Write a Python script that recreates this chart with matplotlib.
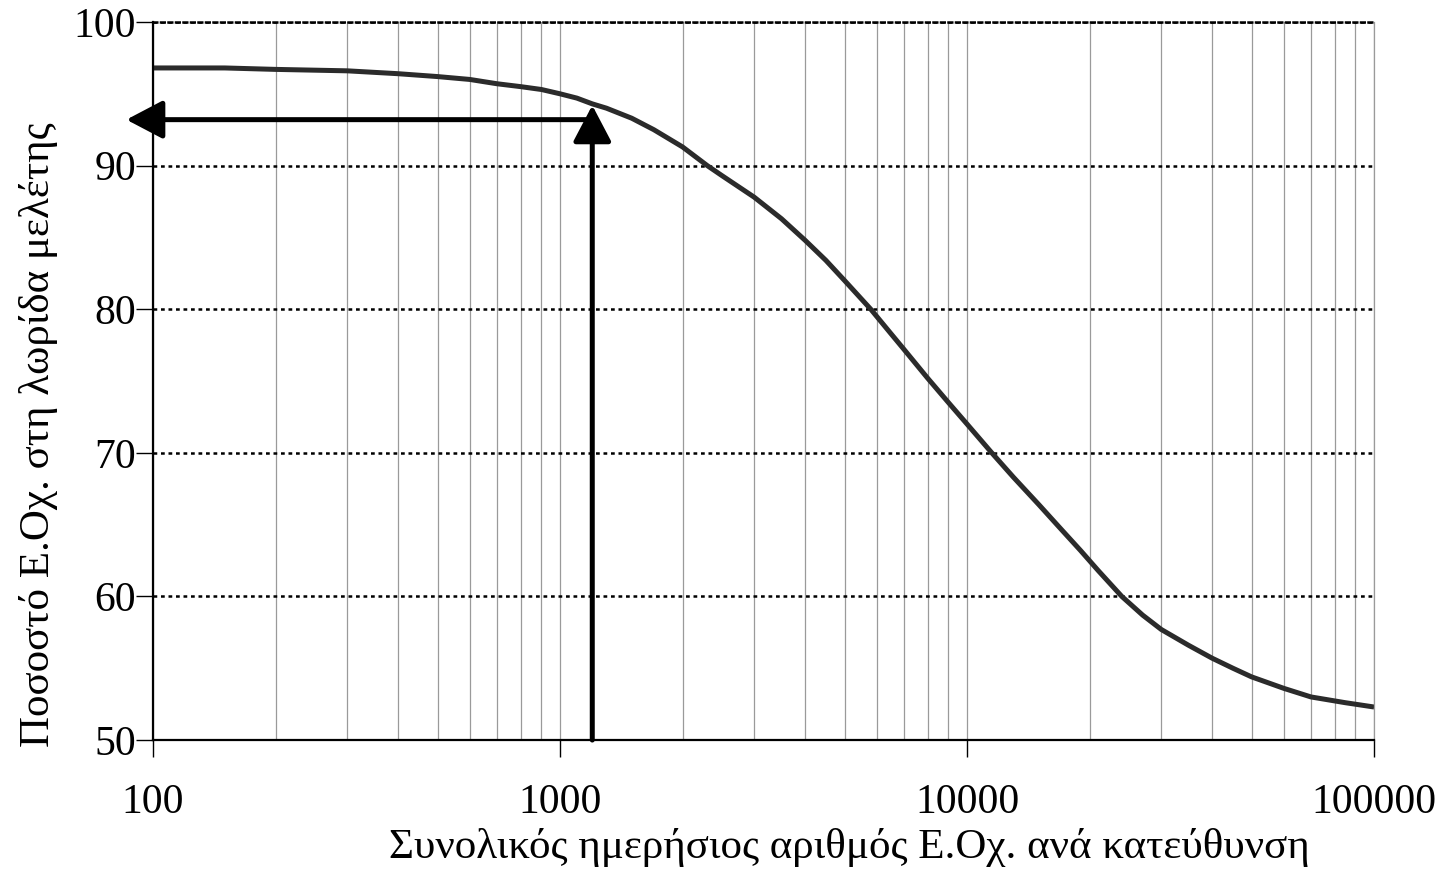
import matplotlib
matplotlib.use('Agg')

import matplotlib.pyplot as plt
import numpy as np
from matplotlib.ticker import LogLocator, FixedLocator, NullFormatter

plt.rcParams['font.family'] = ['Liberation Serif', 'DejaVu Serif']

vehicles = np.array([100, 150, 200, 300, 400, 500, 600, 700, 800, 900, 1000, 1100, 1200,
                     1300, 1500, 1700, 2000, 2300, 2500, 3000, 3500, 4000, 4500, 5000,
                     5800, 6500, 7000, 8000, 9000, 10000, 11500, 13000, 15000, 17000,
                     19000, 21000, 24000, 27000, 30000, 35000, 40000, 45000, 50000,
                     60000, 70000, 85000, 100000])
percent = np.array([96.8, 96.8, 96.7, 96.6, 96.4, 96.2, 96.0, 95.7, 95.5, 95.3, 95.0, 94.7,
                    94.3, 94.0, 93.3, 92.5, 91.3, 90.0, 89.3, 87.8, 86.3, 84.8, 83.4, 82.0,
                    80.0, 78.3, 77.2, 75.2, 73.5, 72.0, 70.0, 68.3, 66.4, 64.7,
                    63.2, 61.8, 60.0, 58.7, 57.7, 56.6, 55.7, 55.0, 54.4,
                    53.6, 53.0, 52.6, 52.3])

arrow_x = 1200
arrow_tip_y = 94.2
arrow_y = 93.2
arrow_left_x = 86

xticks = [100, 1000, 10000, 100000]
yticks = [50, 60, 70, 80, 90, 100]

fig = plt.figure(figsize=(14.49, 8.73), dpi=100)
ax = fig.add_axes([0.1056, 0.1523, 0.8427, 0.8225])

ax.plot(vehicles, percent, color='#2b2b2b', lw=3.6, solid_capstyle='butt')

ax.set_xscale('log')
ax.set_xlim(100, 100000)
ax.set_ylim(50, 100)

ax.xaxis.set_major_locator(FixedLocator(xticks))
ax.set_xticklabels([str(t) for t in xticks])
ax.xaxis.set_minor_locator(LogLocator(base=10, subs=np.arange(2, 10)))
ax.xaxis.set_minor_formatter(NullFormatter())
ax.set_yticks(yticks)

ax.tick_params(axis='x', which='major', direction='out', length=12, width=1, pad=19, labelsize=30)
ax.tick_params(axis='x', which='minor', length=0)
ax.tick_params(axis='y', direction='out', length=12, width=1, pad=0, labelsize=30)

ax.xaxis.grid(True, which='both', color='#9a9a9a', lw=0.9)
ax.yaxis.grid(True, color='k', lw=1.8, linestyle=(0, (1.5, 1.5)))
ax.set_axisbelow(True)

for side in ['left', 'bottom']:
    ax.spines[side].set_color('k')
    ax.spines[side].set_linewidth(1.6)
ax.spines['right'].set_color('#9a9a9a')
ax.spines['right'].set_linewidth(0.9)
ax.spines['top'].set_color('k')
ax.spines['top'].set_linewidth(1.8)
ax.spines['top'].set_linestyle((0, (1.5, 1.5)))

ax.set_xlabel('Συνολικός ημερήσιος αριθμός Ε.Οχ. ανά κατεύθυνση', fontsize=31)
ax.xaxis.set_label_coords(0.57, -0.122)
ax.set_ylabel('Ποσοστό Ε.Οχ. στη λωρίδα μελέτης', fontsize=31)
ax.yaxis.set_label_coords(-0.078, 0.425)

arrow_props = dict(arrowstyle='-|>,head_length=0.8,head_width=0.42', color='k', lw=3.6,
                   mutation_scale=28, shrinkA=0, shrinkB=0)
ax.annotate('', xy=(arrow_x, arrow_tip_y), xytext=(arrow_x, 50),
            arrowprops=arrow_props, annotation_clip=False)
ax.annotate('', xy=(arrow_left_x, arrow_y), xytext=(arrow_x * 1.01, arrow_y),
            arrowprops=arrow_props, annotation_clip=False)

fig.savefig('out.png', dpi=100)
